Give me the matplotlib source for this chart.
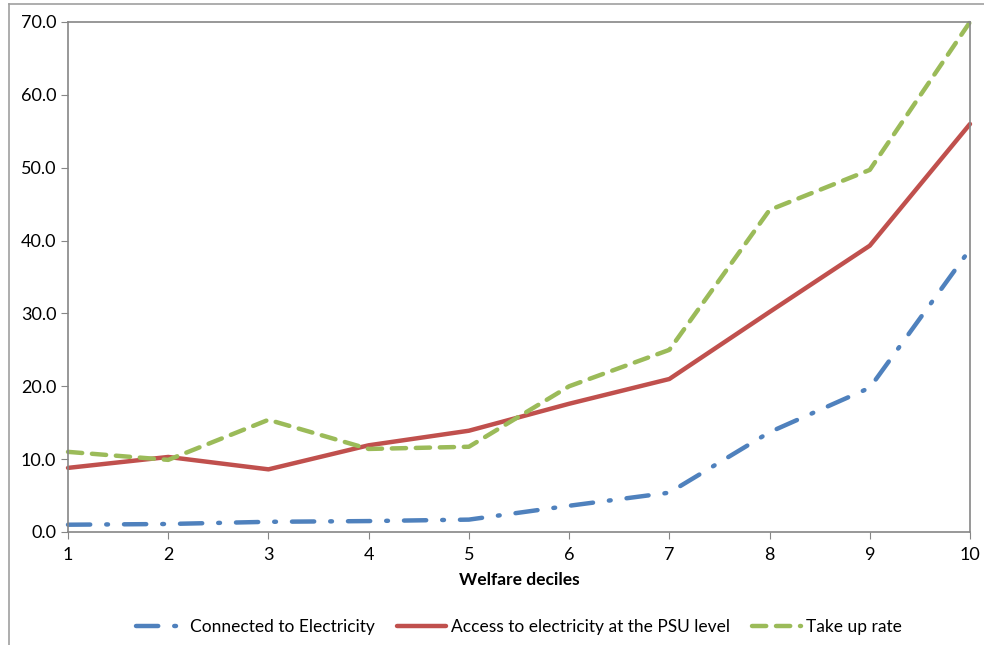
import matplotlib
matplotlib.use('Agg')
import matplotlib.pyplot as plt
from matplotlib.lines import Line2D

deciles = [1, 2, 3, 4, 5, 6, 7, 8, 9, 10]
connected = [1.0, 1.1, 1.4, 1.5, 1.7, 3.6, 5.4, 13.7, 19.8, 38.8]
access_psu = [8.8, 10.3, 8.6, 11.9, 13.9, 17.6, 21.0, 30.2, 39.3, 56.0]
take_up = [11.0, 9.9, 15.4, 11.4, 11.7, 20.0, 25.0, 44.2, 49.7, 70.0]

plt.rcParams['font.family'] = ['Lato', 'DejaVu Sans']

fig = plt.figure(figsize=(9.84, 6.45), dpi=100)
ax = fig.add_axes([68 / 984, 1 - 532 / 645, 902 / 984, 510 / 645])

ax.plot(deciles, connected, color='#4F81BD', lw=3.2, dashes=(5, 3.6, 0.4, 3.6),
        dash_capstyle='round', label='Connected to Electricity', clip_on=False)
ax.plot(deciles, access_psu, color='#C0504D', lw=3.2, solid_capstyle='round',
        label='Access to electricity at the PSU level', clip_on=False)
ax.plot(deciles, take_up, color='#9BBB59', lw=3.2, dashes=(3.2, 2.2),
        dash_capstyle='round', label='Take up rate', clip_on=False)

ax.set_xlim(1, 10)
ax.set_ylim(0, 70)
ax.set_xticks(deciles)
ax.set_yticks(range(0, 71, 10))
ax.set_yticklabels([f'{v:.1f}' for v in range(0, 71, 10)])
ax.tick_params(axis='both', labelsize=13, color='#868686', length=5, direction='out')
ax.tick_params(axis='x', pad=6)
for s in ax.spines.values():
    s.set_color('#868686')
    s.set_linewidth(1.2)

ax.set_xlabel('Welfare deciles', fontsize=12.5, fontweight='bold', labelpad=6)

ax.legend(loc='upper center', bbox_to_anchor=(0.5, -0.14), ncol=3, frameon=False,
          fontsize=12.5, handlelength=2.8, handletextpad=0.3, columnspacing=1.3)

# outer frame of the chart box
fig.add_artist(Line2D([9 / 984, 1], [1 - 4 / 645, 1 - 4 / 645], color='#A0A0A0', lw=1.2))
fig.add_artist(Line2D([9 / 984, 9 / 984], [0, 1 - 4 / 645], color='#A0A0A0', lw=1.2))

fig.savefig('out.png', dpi=100)
